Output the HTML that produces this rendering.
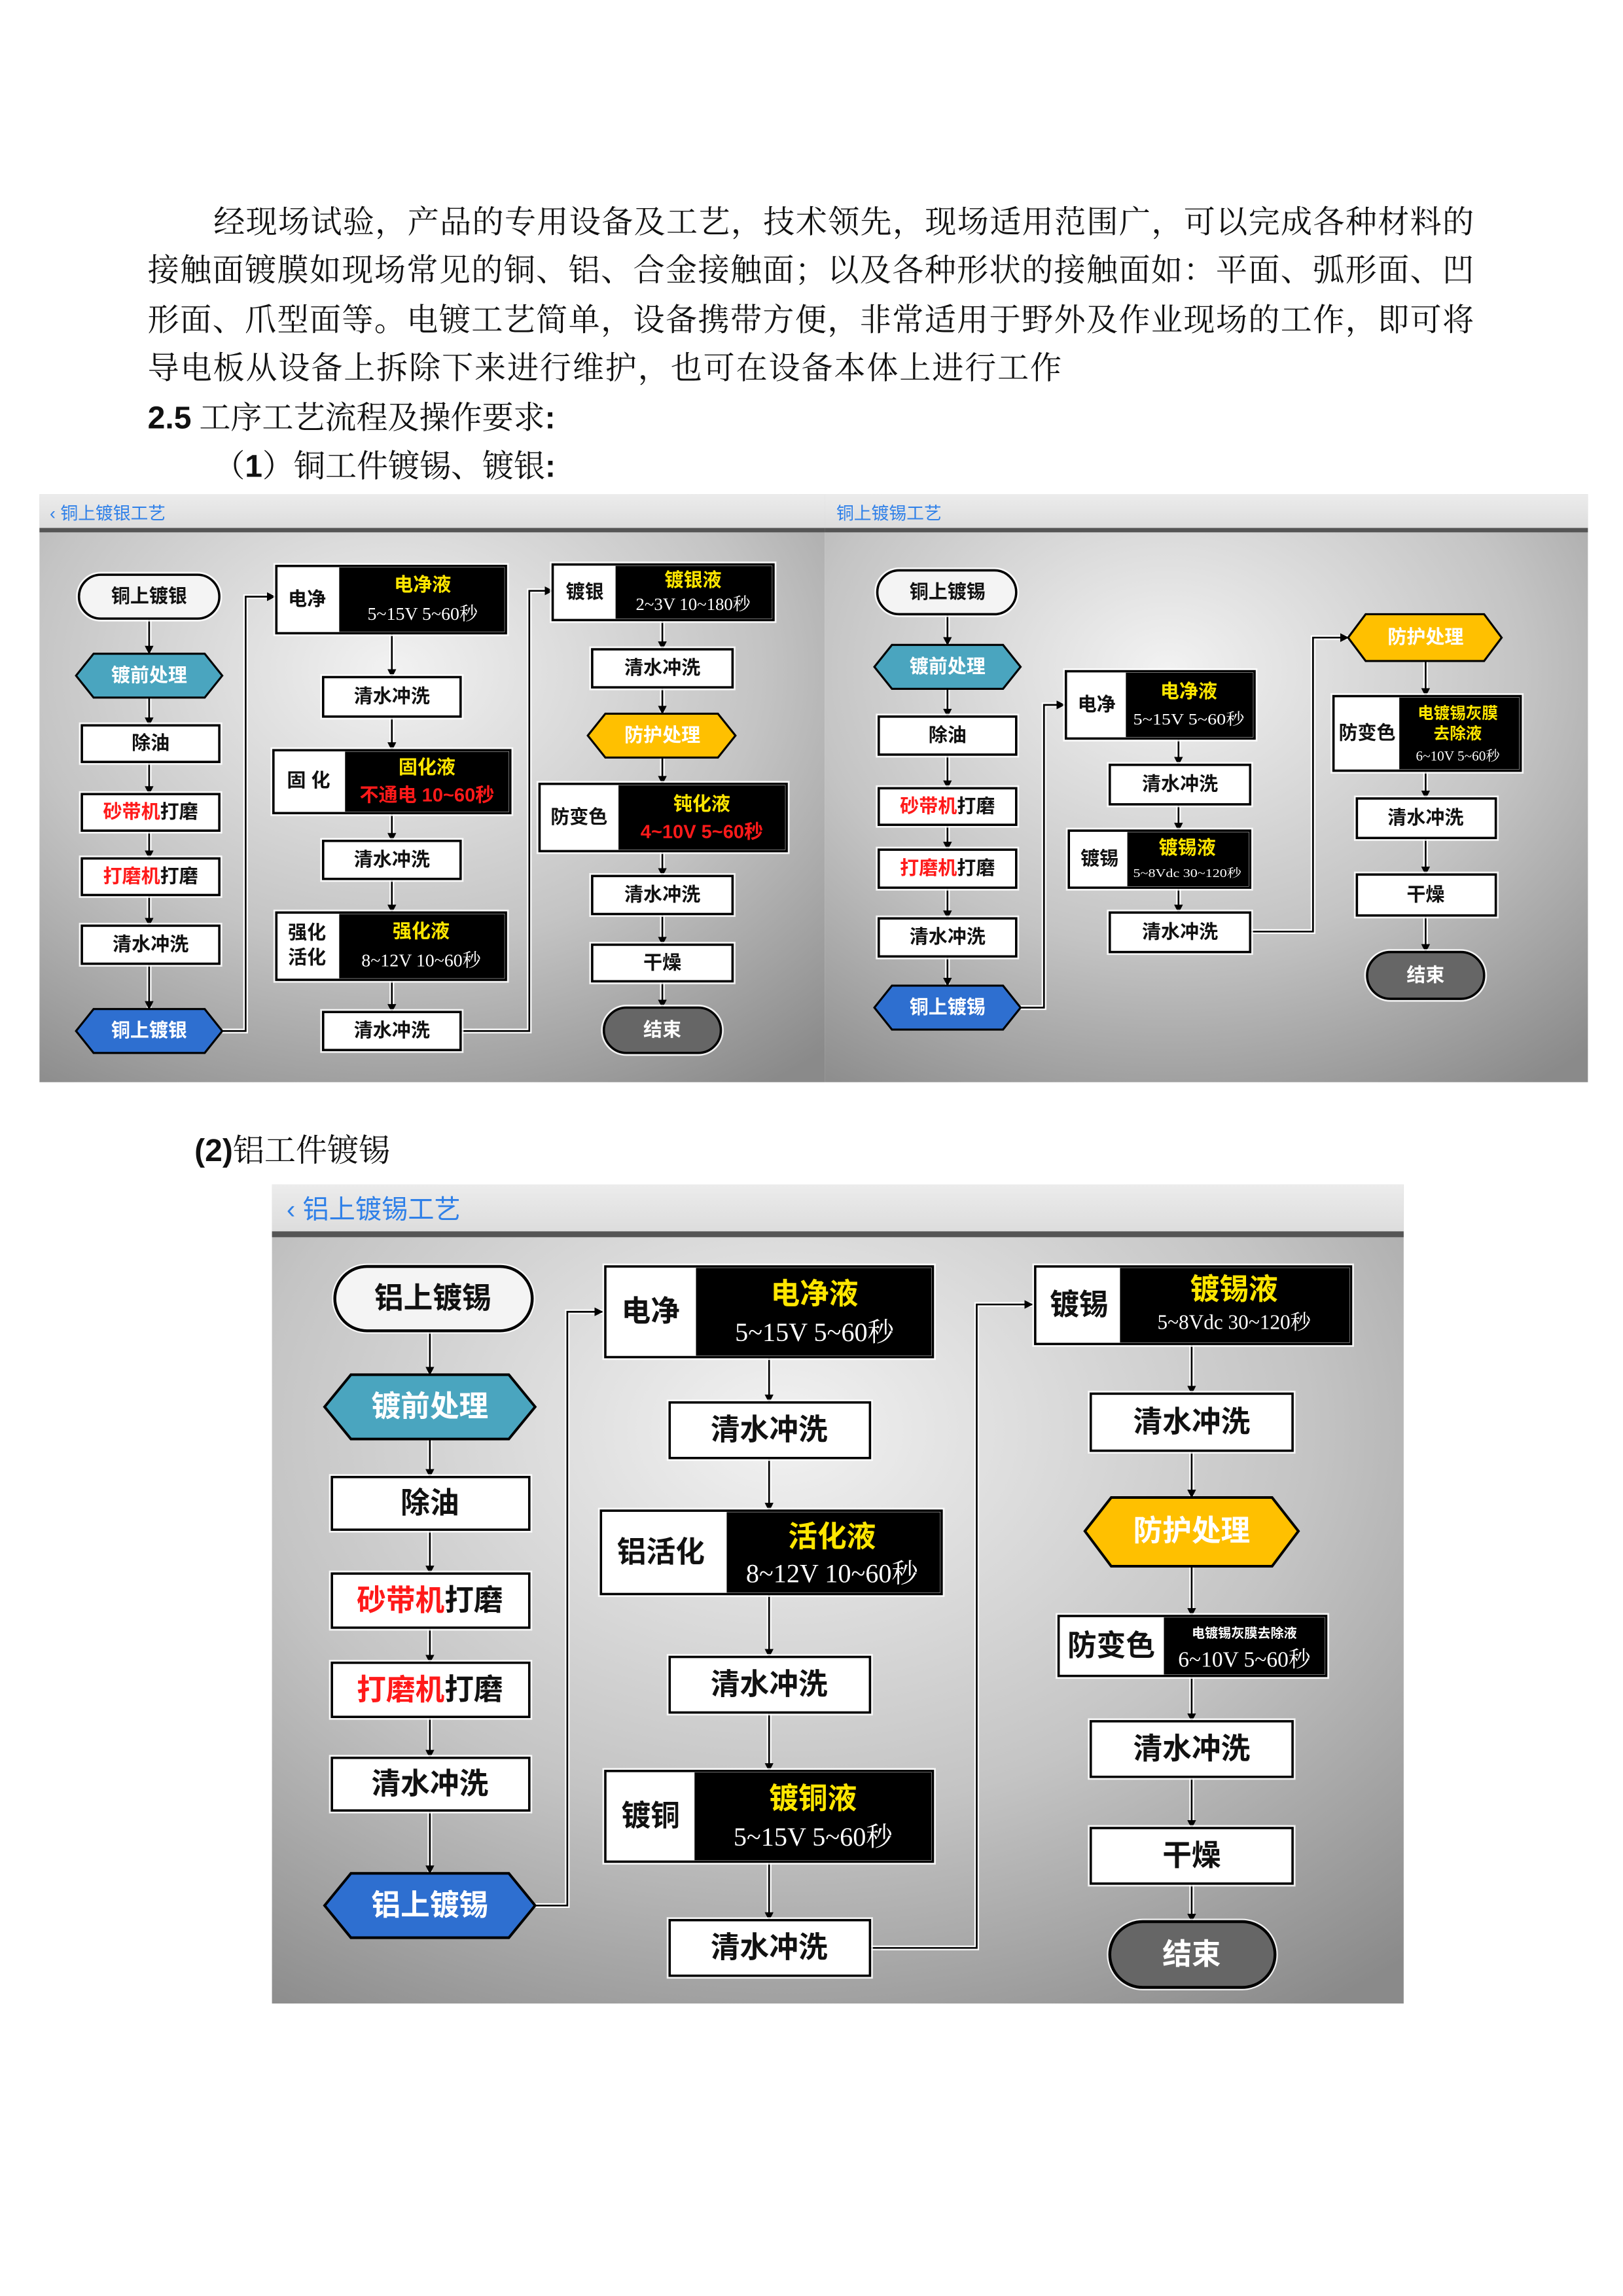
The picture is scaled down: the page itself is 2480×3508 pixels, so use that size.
<!DOCTYPE html>
<html><head><meta charset="utf-8"><style>
html,body{margin:0;padding:0;background:#fff}
svg{display:block}
text{font-family:"Liberation Sans","Noto Sans CJK SC",sans-serif;font-weight:bold;text-anchor:middle;dominant-baseline:central}
.p{font-family:"Liberation Serif","Noto Serif CJK SC",serif;font-weight:normal;text-anchor:start;dominant-baseline:alphabetic;font-size:21.5px;fill:#111}
.b{fill:#fff;stroke:#000;stroke-width:1.6}
.k{fill:#000}
.o{fill:none;stroke:#fff;stroke-width:4;opacity:.85}
.h{fill:none;stroke:#fff;stroke-width:3.2}
.l{fill:none;stroke:#000;stroke-width:1.2;marker-end:url(#a)}
.y{fill:#ffe600}.w{fill:#fff}.r{fill:#ff1a1a}.d{fill:#111}
.v{font-family:"Liberation Serif","Noto Serif CJK SC",serif;font-weight:normal;fill:#fff}
.hd{fill:#2f80e8;font-weight:normal;text-anchor:start}
</style></head><body>
<svg width="2480" height="3508" viewBox="0 0 1110 1570" preserveAspectRatio="none" xmlns="http://www.w3.org/2000/svg">
<defs>
<marker id="a" viewBox="0 0 10 10" refX="9" refY="5" markerWidth="6" markerHeight="6" orient="auto-start-reverse" markerUnits="userSpaceOnUse"><path d="M0,0L10,5L0,10z" fill="#000"/></marker>
<radialGradient id="g" cx="0.45" cy="0.3" r="0.85"><stop offset="0" stop-color="#f2f2f2"/><stop offset="0.55" stop-color="#c4c4c4"/><stop offset="1" stop-color="#8a8a8a"/></radialGradient>
<linearGradient id="hg" x1="0" y1="0" x2="0" y2="1"><stop offset="0" stop-color="#ececec"/><stop offset="1" stop-color="#dcdcdc"/></linearGradient>
</defs>

<text class="p" x="146" y="159" textLength="862" lengthAdjust="spacing">经现场试验，产品的专用设备及工艺，技术领先，现场适用范围广，可以完成各种材料的</text>
<text class="p" x="101" y="192" textLength="907" lengthAdjust="spacing">接触面镀膜如现场常见的铜、铝、合金接触面；以及各种形状的接触面如：平面、弧形面、凹</text>
<text class="p" x="101" y="226" textLength="907" lengthAdjust="spacing">形面、爪型面等。电镀工艺简单，设备携带方便，非常适用于野外及作业现场的工作，即可将</text>
<text class="p" x="101" y="259" textLength="625" lengthAdjust="spacing">导电板从设备上拆除下来进行维护，也可在设备本体上进行工作</text>
<text class="p" x="101" y="293"><tspan font-family="Liberation Sans" font-weight="bold">2.5</tspan> 工序工艺流程及操作要求<tspan font-family="Liberation Sans" font-weight="bold">:</tspan></text>
<text class="p" x="146" y="326">（<tspan font-family="Liberation Sans" font-weight="bold">1</tspan>）铜工件镀锡、镀银<tspan font-family="Liberation Sans" font-weight="bold">:</tspan></text>
<text class="p" x="133" y="794"><tspan font-family="Liberation Sans" font-weight="bold">(2)</tspan>铝工件镀锡</text>

<rect x="27" y="338" width="537" height="402" fill="url(#g)"/>
<rect x="27" y="338" width="537" height="24" fill="url(#hg)"/>
<rect x="27" y="361" width="537" height="3" fill="#555"/>
<text class="hd" x="34" y="351" font-size="12">‹ 铜上镀银工艺</text>
<rect x="564" y="338" width="522" height="402" fill="url(#g)"/>
<rect x="564" y="338" width="522" height="24" fill="url(#hg)"/>
<rect x="564" y="361" width="522" height="3" fill="#555"/>
<text class="hd" x="572" y="351" font-size="12">铜上镀锡工艺</text>
<rect x="186" y="810" width="774" height="560" fill="url(#g)"/>
<rect x="186" y="810" width="774" height="33" fill="url(#hg)"/>
<rect x="186" y="842" width="774" height="4" fill="#555"/>
<text class="hd" x="196" y="827" font-size="18">‹  铝上镀锡工艺</text>

<g>
<path class="h" d="M102 423V447M102 477V496M102 521V543M102 568V587M102 612V633M102 659V690M152 705H168V408H188M268 433V463M268 490V513M268 556V575M268 601V624M268 670V692M315 705H362V404H378M453 424V444M453 470V488M453 518V536M453 582V599M453 625V646M453 671V689"/>
<path class="l" d="M102 423V447"/><path class="l" d="M102 477V496"/><path class="l" d="M102 521V543"/><path class="l" d="M102 568V587"/><path class="l" d="M102 612V633"/><path class="l" d="M102 659V690"/><path class="l" d="M152 705H168V408H188"/>
<path class="l" d="M268 433V463"/><path class="l" d="M268 490V513"/><path class="l" d="M268 556V575"/><path class="l" d="M268 601V624"/><path class="l" d="M268 670V692"/><path class="l" d="M315 705H362V404H378"/>
<path class="l" d="M453 424V444"/><path class="l" d="M453 470V488"/><path class="l" d="M453 518V536"/><path class="l" d="M453 582V599"/><path class="l" d="M453 625V646"/><path class="l" d="M453 671V689"/>
</g>
<g font-size="13">
<rect class="o" x="54" y="393" width="96" height="30" rx="15"/><rect x="54" y="393" width="96" height="30" rx="15" fill="#f4f4f4" stroke="#000" stroke-width="1.6"/><text x="102" y="408" class="d">铜上镀银</text>
<polygon points="52,462 64,447 140,447 152,462 140,477 64,477" fill="#4aa5bf" stroke="#000" stroke-width="1.4"/><text x="102" y="462" class="w">镀前处理</text>
<rect class="o" x="56" y="496" width="94" height="25"/><rect class="b" x="56" y="496" width="94" height="25"/><text x="103" y="508.5" class="d">除油</text>
<rect class="o" x="56" y="543" width="94" height="25"/><rect class="b" x="56" y="543" width="94" height="25"/><text x="103" y="555.5" class="d"><tspan class="r">砂带机</tspan>打磨</text>
<rect class="o" x="56" y="587" width="94" height="25"/><rect class="b" x="56" y="587" width="94" height="25"/><text x="103" y="599.5" class="d"><tspan class="r">打磨机</tspan>打磨</text>
<rect class="o" x="56" y="633" width="94" height="26"/><rect class="b" x="56" y="633" width="94" height="26"/><text x="103" y="646" class="d">清水冲洗</text>
<polygon points="52,705 64,690 140,690 152,705 140,720 64,720" fill="#2e6fd0" stroke="#000" stroke-width="1.4"/><text x="102" y="705" class="w">铜上镀银</text>

<rect class="o" x="189" y="387" width="157" height="46"/><rect class="b" x="189" y="387" width="157" height="46"/><rect class="k" x="232" y="388" width="113" height="44"/><text x="210" y="410" class="d">电净</text><text x="289" y="400" class="y">电净液</text><text x="289" y="420" class="v" font-size="12.5">5~15V  5~60秒</text>
<rect class="o" x="221" y="463" width="94" height="27"/><rect class="b" x="221" y="463" width="94" height="27"/><text x="268" y="476.5" class="d">清水冲洗</text>
<rect class="o" x="187" y="513" width="162" height="43"/><rect class="b" x="187" y="513" width="162" height="43"/><rect class="k" x="236" y="514" width="112" height="41"/><text x="211" y="534" class="d">固 化</text><text x="292" y="525" class="y">固化液</text><text x="292" y="544" class="r">不通电 10~60秒</text>
<rect class="o" x="221" y="575" width="94" height="26"/><rect class="b" x="221" y="575" width="94" height="26"/><text x="268" y="588" class="d">清水冲洗</text>
<rect class="o" x="189" y="624" width="157" height="46"/><rect class="b" x="189" y="624" width="157" height="46"/><rect class="k" x="232" y="625" width="113" height="44"/><text x="210" y="638" class="d">强化</text><text x="210" y="655" class="d">活化</text><text x="288" y="637" class="y">强化液</text><text x="288" y="657" class="v" font-size="12.5">8~12V  10~60秒</text>
<rect class="o" x="221" y="692" width="94" height="26"/><rect class="b" x="221" y="692" width="94" height="26"/><text x="268" y="705" class="d">清水冲洗</text>

<rect class="o" x="378" y="386" width="151" height="38"/><rect class="b" x="378" y="386" width="151" height="38"/><rect class="k" x="421" y="387" width="107" height="36"/><text x="400" y="405" class="d">镀银</text><text x="474" y="397" class="y">镀银液</text><text x="474" y="413" class="v" font-size="12">2~3V  10~180秒</text>
<rect class="o" x="405" y="444" width="96" height="26"/><rect class="b" x="405" y="444" width="96" height="26"/><text x="453" y="457" class="d">清水冲洗</text>
<polygon points="402,503 414,488 491,488 503,503 491,518 414,518" fill="#ffc000" stroke="#000" stroke-width="1.4"/><text x="453" y="503" class="w">防护处理</text>
<rect class="o" x="369" y="536" width="169" height="46"/><rect class="b" x="369" y="536" width="169" height="46"/><rect class="k" x="423" y="537" width="114" height="44"/><text x="396" y="559" class="d">防变色</text><text x="480" y="550" class="y">钝化液</text><text x="480" y="569" class="r">4~10V 5~60秒</text>
<rect class="o" x="405" y="599" width="96" height="26"/><rect class="b" x="405" y="599" width="96" height="26"/><text x="453" y="612" class="d">清水冲洗</text>
<rect class="o" x="405" y="646" width="96" height="25"/><rect class="b" x="405" y="646" width="96" height="25"/><text x="453" y="658.5" class="d">干燥</text>
<rect class="o" x="413" y="689" width="80" height="31" rx="15.5"/><rect x="413" y="689" width="80" height="31" rx="15.5" fill="#666" stroke="#000" stroke-width="1.6"/><text x="453" y="704.5" class="w">结束</text>
</g>

<g>
<path class="h" d="M648 420V441M648 471V490M648 516V539M648 564V581M648 607V628M648 654V674M698 689H714V482H728M806 505V523M806 550V568M806 607V624M855 637H898V436H922M975 452V476M975 527V546M975 573V598M975 626V651"/>
<path class="l" d="M648 420V441"/><path class="l" d="M648 471V490"/><path class="l" d="M648 516V539"/><path class="l" d="M648 564V581"/><path class="l" d="M648 607V628"/><path class="l" d="M648 654V674"/><path class="l" d="M698 689H714V482H728"/>
<path class="l" d="M806 505V523"/><path class="l" d="M806 550V568"/><path class="l" d="M806 607V624"/><path class="l" d="M855 637H898V436H922"/>
<path class="l" d="M975 452V476"/><path class="l" d="M975 527V546"/><path class="l" d="M975 573V598"/><path class="l" d="M975 626V651"/>
</g>
<g font-size="13">
<rect class="o" x="600" y="390" width="95" height="30" rx="15"/><rect x="600" y="390" width="95" height="30" rx="15" fill="#f4f4f4" stroke="#000" stroke-width="1.6"/><text x="648" y="405" class="d">铜上镀锡</text>
<polygon points="598,456 610,441 686,441 698,456 686,471 610,471" fill="#4aa5bf" stroke="#000" stroke-width="1.4"/><text x="648" y="456" class="w">镀前处理</text>
<rect class="o" x="601" y="490" width="94" height="26"/><rect class="b" x="601" y="490" width="94" height="26"/><text x="648" y="503" class="d">除油</text>
<rect class="o" x="601" y="539" width="94" height="25"/><rect class="b" x="601" y="539" width="94" height="25"/><text x="648" y="551.5" class="d"><tspan class="r">砂带机</tspan>打磨</text>
<rect class="o" x="601" y="581" width="94" height="26"/><rect class="b" x="601" y="581" width="94" height="26"/><text x="648" y="594" class="d"><tspan class="r">打磨机</tspan>打磨</text>
<rect class="o" x="601" y="628" width="94" height="26"/><rect class="b" x="601" y="628" width="94" height="26"/><text x="648" y="641" class="d">清水冲洗</text>
<polygon points="598,689 610,674 686,674 698,689 686,704 610,704" fill="#2e6fd0" stroke="#000" stroke-width="1.4"/><text x="648" y="689" class="w">铜上镀锡</text>

<rect class="o" x="729" y="459" width="129" height="46"/><rect class="b" x="729" y="459" width="129" height="46"/><rect class="k" x="770" y="460" width="87" height="44"/><text x="750" y="482" class="d">电净</text><text x="813" y="473" class="y">电净液</text><text x="813" y="492" class="v" font-size="11" textLength="76" lengthAdjust="spacingAndGlyphs">5~15V  5~60秒</text>
<rect class="o" x="759" y="523" width="96" height="27"/><rect class="b" x="759" y="523" width="96" height="27"/><text x="807" y="536.5" class="d">清水冲洗</text>
<rect class="o" x="731" y="568" width="124" height="39"/><rect class="b" x="731" y="568" width="124" height="39"/><rect class="k" x="771" y="569" width="83" height="37"/><text x="752" y="587.5" class="d">镀锡</text><text x="812" y="580" class="y">镀锡液</text><text x="812" y="597" class="v" font-size="8" textLength="74" lengthAdjust="spacingAndGlyphs">5~8Vdc  30~120秒</text>
<rect class="o" x="759" y="624" width="96" height="27"/><rect class="b" x="759" y="624" width="96" height="27"/><text x="807" y="637.5" class="d">清水冲洗</text>

<polygon points="922,436 934,420 1015,420 1027,436 1015,452 934,452" fill="#ffc000" stroke="#000" stroke-width="1.4"/><text x="975" y="436" class="w">防护处理</text>
<rect class="o" x="912" y="476" width="128" height="51"/><rect class="b" x="912" y="476" width="128" height="51"/><rect class="k" x="957" y="477" width="82" height="49"/><text x="935" y="501.5" class="d">防变色</text><text x="997" y="488" class="y" font-size="11">电镀锡灰膜</text><text x="997" y="502" class="y" font-size="11">去除液</text><text x="997" y="517" class="v" font-size="9.5">6~10V  5~60秒</text>
<rect class="o" x="928" y="546" width="95" height="27"/><rect class="b" x="928" y="546" width="95" height="27"/><text x="975" y="559.5" class="d">清水冲洗</text>
<rect class="o" x="928" y="598" width="95" height="28"/><rect class="b" x="928" y="598" width="95" height="28"/><text x="975" y="612" class="d">干燥</text>
<rect class="o" x="935" y="651" width="80" height="32" rx="16"/><rect x="935" y="651" width="80" height="32" rx="16" fill="#666" stroke="#000" stroke-width="1.6"/><text x="975" y="667" class="w">结束</text>
</g>

<g>
<path class="h" d="M294 910V940M294 984V1010M294 1046V1076M294 1113V1137M294 1174V1202M294 1238V1281M366 1303H388V897H412M526 928V959M526 997V1033M526 1090V1133M526 1171V1211M526 1273V1313M595 1332H668V892H706M815 919V953M815 992V1024M815 1071V1105M815 1146V1177M815 1215V1250M815 1288V1314"/>
<path class="l" d="M294 910V940"/><path class="l" d="M294 984V1010"/><path class="l" d="M294 1046V1076"/><path class="l" d="M294 1113V1137"/><path class="l" d="M294 1174V1202"/><path class="l" d="M294 1238V1281"/><path class="l" d="M366 1303H388V897H412"/>
<path class="l" d="M526 928V959"/><path class="l" d="M526 997V1033"/><path class="l" d="M526 1090V1133"/><path class="l" d="M526 1171V1211"/><path class="l" d="M526 1273V1313"/><path class="l" d="M595 1332H668V892H706"/>
<path class="l" d="M815 919V953"/><path class="l" d="M815 992V1024"/><path class="l" d="M815 1071V1105"/><path class="l" d="M815 1146V1177"/><path class="l" d="M815 1215V1250"/><path class="l" d="M815 1288V1314"/>
</g>
<g font-size="20">
<rect class="o" x="229" y="866" width="135" height="44" rx="22"/><rect x="229" y="866" width="135" height="44" rx="22" fill="#f4f4f4" stroke="#000" stroke-width="2"/><text x="296" y="888" class="d">铝上镀锡</text>
<polygon points="222,962 240,940 348,940 366,962 348,984 240,984" fill="#4aa5bf" stroke="#000" stroke-width="1.8"/><text x="294" y="962" class="w">镀前处理</text>
<rect class="o" x="227" y="1010" width="135" height="36"/><rect class="b" x="227" y="1010" width="135" height="36" stroke-width="2"/><text x="294" y="1028" class="d">除油</text>
<rect class="o" x="227" y="1076" width="135" height="37"/><rect class="b" x="227" y="1076" width="135" height="37" stroke-width="2"/><text x="294" y="1094.5" class="d"><tspan class="r">砂带机</tspan>打磨</text>
<rect class="o" x="227" y="1137" width="135" height="37"/><rect class="b" x="227" y="1137" width="135" height="37" stroke-width="2"/><text x="294" y="1155.5" class="d"><tspan class="r">打磨机</tspan>打磨</text>
<rect class="o" x="227" y="1202" width="135" height="36"/><rect class="b" x="227" y="1202" width="135" height="36" stroke-width="2"/><text x="294" y="1220" class="d">清水冲洗</text>
<polygon points="222,1303 240,1281 348,1281 366,1303 348,1325 240,1325" fill="#2e6fd0" stroke="#000" stroke-width="1.8"/><text x="294" y="1303" class="w">铝上镀锡</text>

<rect class="o" x="414" y="866" width="224" height="62"/><rect class="b" x="414" y="866" width="224" height="62" stroke-width="2"/><rect class="k" x="476" y="867" width="161" height="60"/><text x="445" y="897" class="d">电净</text><text x="557" y="885" class="y">电净液</text><text x="557" y="911" class="v" font-size="18">5~15V  5~60秒</text>
<rect class="o" x="458" y="959" width="137" height="38"/><rect class="b" x="458" y="959" width="137" height="38" stroke-width="2"/><text x="526" y="978" class="d">清水冲洗</text>
<rect class="o" x="411" y="1033" width="233" height="57"/><rect class="b" x="411" y="1033" width="233" height="57" stroke-width="2"/><rect class="k" x="497" y="1034" width="146" height="55"/><text x="452" y="1061.5" class="d">铝活化</text><text x="569" y="1051" class="y">活化液</text><text x="569" y="1076" class="v" font-size="18">8~12V  10~60秒</text>
<rect class="o" x="458" y="1133" width="137" height="38"/><rect class="b" x="458" y="1133" width="137" height="38" stroke-width="2"/><text x="526" y="1152" class="d">清水冲洗</text>
<rect class="o" x="414" y="1211" width="224" height="62"/><rect class="b" x="414" y="1211" width="224" height="62" stroke-width="2"/><rect class="k" x="475" y="1212" width="162" height="60"/><text x="445" y="1242" class="d">镀铜</text><text x="556" y="1230" class="y">镀铜液</text><text x="556" y="1256" class="v" font-size="18">5~15V  5~60秒</text>
<rect class="o" x="458" y="1313" width="137" height="38"/><rect class="b" x="458" y="1313" width="137" height="38" stroke-width="2"/><text x="526" y="1332" class="d">清水冲洗</text>

<rect class="o" x="708" y="866" width="216" height="53"/><rect class="b" x="708" y="866" width="216" height="53" stroke-width="2"/><rect class="k" x="766" y="867" width="157" height="51"/><text x="738" y="892.5" class="d">镀锡</text><text x="844" y="882" class="y">镀锡液</text><text x="844" y="904" class="v" font-size="14">5~8Vdc  30~120秒</text>
<rect class="o" x="746" y="953" width="138" height="39"/><rect class="b" x="746" y="953" width="138" height="39" stroke-width="2"/><text x="815" y="972.5" class="d">清水冲洗</text>
<polygon points="742,1047 760,1024 870,1024 888,1047 870,1071 760,1071" fill="#ffc000" stroke="#000" stroke-width="1.8"/><text x="815" y="1047" class="w">防护处理</text>
<rect class="o" x="724" y="1105" width="183" height="41"/><rect class="b" x="724" y="1105" width="183" height="41" stroke-width="2"/><rect class="k" x="796" y="1106" width="110" height="39"/><text x="760" y="1125.5" class="d">防变色</text><text x="851" y="1117" class="w" font-size="9" font-weight="normal">电镀锡灰膜去除液</text><text x="851" y="1135" class="v" font-size="15">6~10V  5~60秒</text>
<rect class="o" x="746" y="1177" width="138" height="38"/><rect class="b" x="746" y="1177" width="138" height="38" stroke-width="2"/><text x="815" y="1196" class="d">清水冲洗</text>
<rect class="o" x="746" y="1250" width="138" height="38"/><rect class="b" x="746" y="1250" width="138" height="38" stroke-width="2"/><text x="815" y="1269" class="d">干燥</text>
<rect class="o" x="759" y="1314" width="113" height="45" rx="22.5"/><rect x="759" y="1314" width="113" height="45" rx="22.5" fill="#666" stroke="#000" stroke-width="2"/><text x="815" y="1336.5" class="w">结束</text>
</g>
</svg>
</body></html>
